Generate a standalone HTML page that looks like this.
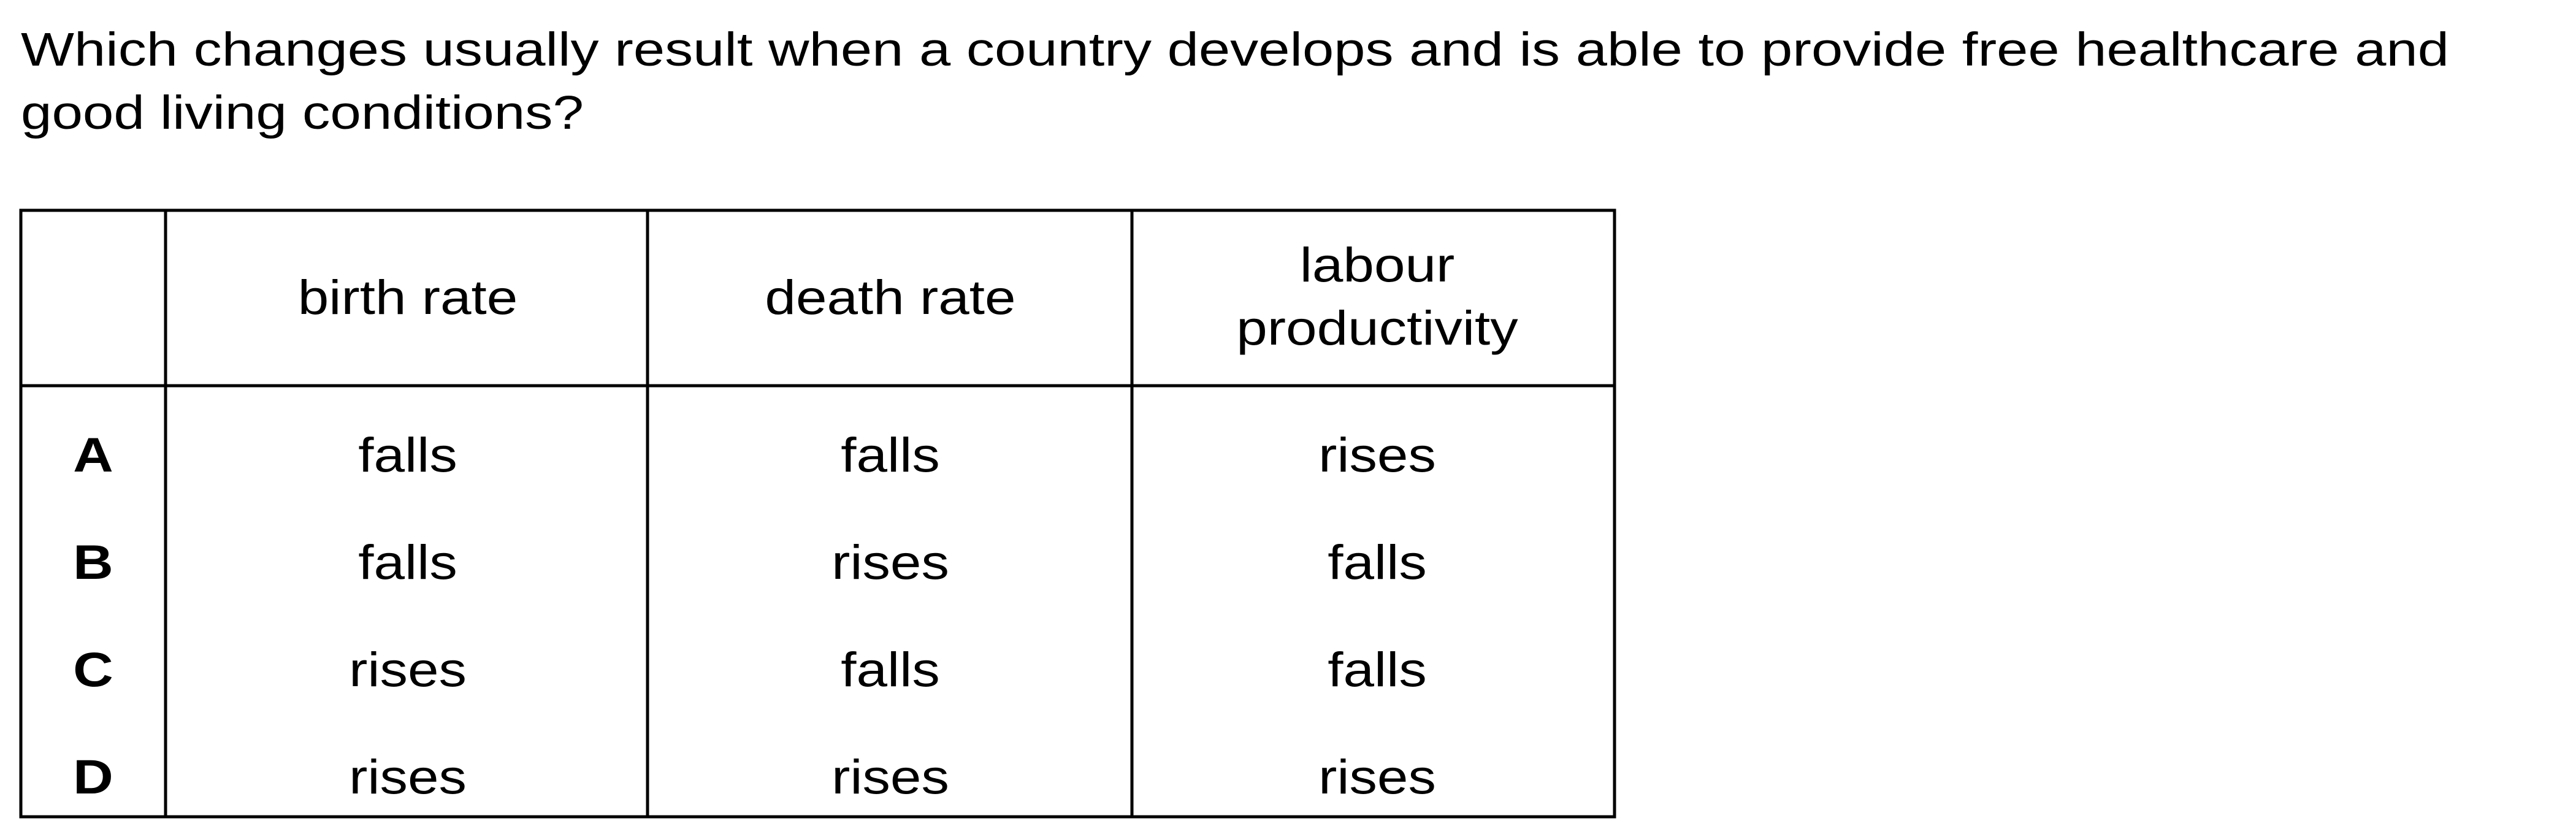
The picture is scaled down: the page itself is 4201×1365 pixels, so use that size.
<!DOCTYPE html>
<html><head><meta charset="utf-8"><style>
html,body{margin:0;padding:0;background:#fff;}
svg{display:block;}
text{font-family:"Liberation Sans",Arial,sans-serif;fill:#000;}
</style></head><body>
<svg width="4201" height="1365" viewBox="0 0 4201 1365">
<g font-size="77">
<text x="34" y="107" textLength="3960" lengthAdjust="spacingAndGlyphs">Which changes usually result when a country develops and is able to provide free healthcare and</text>
<text x="34" y="210" textLength="918" lengthAdjust="spacingAndGlyphs">good living conditions?</text>
</g>
<g stroke="#000" stroke-width="5" fill="none">
<rect x="34" y="343" width="2599" height="989"/>
<line x1="34" y1="629" x2="2633" y2="629"/>
<line x1="270" y1="343" x2="270" y2="1332"/>
<line x1="1056" y1="343" x2="1056" y2="1332"/>
<line x1="1846" y1="343" x2="1846" y2="1332"/>
</g>
<g font-size="79" text-anchor="middle">
<text x="665" y="512" transform="matrix(1.15,0,0,1,-99.75,0)">birth rate</text>
<text x="1452" y="512" transform="matrix(1.15,0,0,1,-217.8,0)">death rate</text>
<text x="2246" y="459" transform="matrix(1.15,0,0,1,-336.9,0)">labour</text>
<text x="2246" y="562" transform="matrix(1.15,0,0,1,-336.9,0)">productivity</text>
<g font-weight="bold">
<text x="152" y="769" transform="matrix(1.15,0,0,1,-22.8,0)">A</text>
<text x="152" y="944" transform="matrix(1.15,0,0,1,-22.8,0)">B</text>
<text x="152" y="1119" transform="matrix(1.15,0,0,1,-22.8,0)">C</text>
<text x="152" y="1294" transform="matrix(1.15,0,0,1,-22.8,0)">D</text>
</g>
<g transform="matrix(1.15,0,0,1,-99.75,0)">
<text x="665" y="769">falls</text>
<text x="665" y="944">falls</text>
<text x="665" y="1119">rises</text>
<text x="665" y="1294">rises</text>
</g>
<g transform="matrix(1.15,0,0,1,-217.8,0)">
<text x="1452" y="769">falls</text>
<text x="1452" y="944">rises</text>
<text x="1452" y="1119">falls</text>
<text x="1452" y="1294">rises</text>
</g>
<g transform="matrix(1.15,0,0,1,-336.9,0)">
<text x="2246" y="769">rises</text>
<text x="2246" y="944">falls</text>
<text x="2246" y="1119">falls</text>
<text x="2246" y="1294">rises</text>
</g>
</g>
</svg>
</body></html>
